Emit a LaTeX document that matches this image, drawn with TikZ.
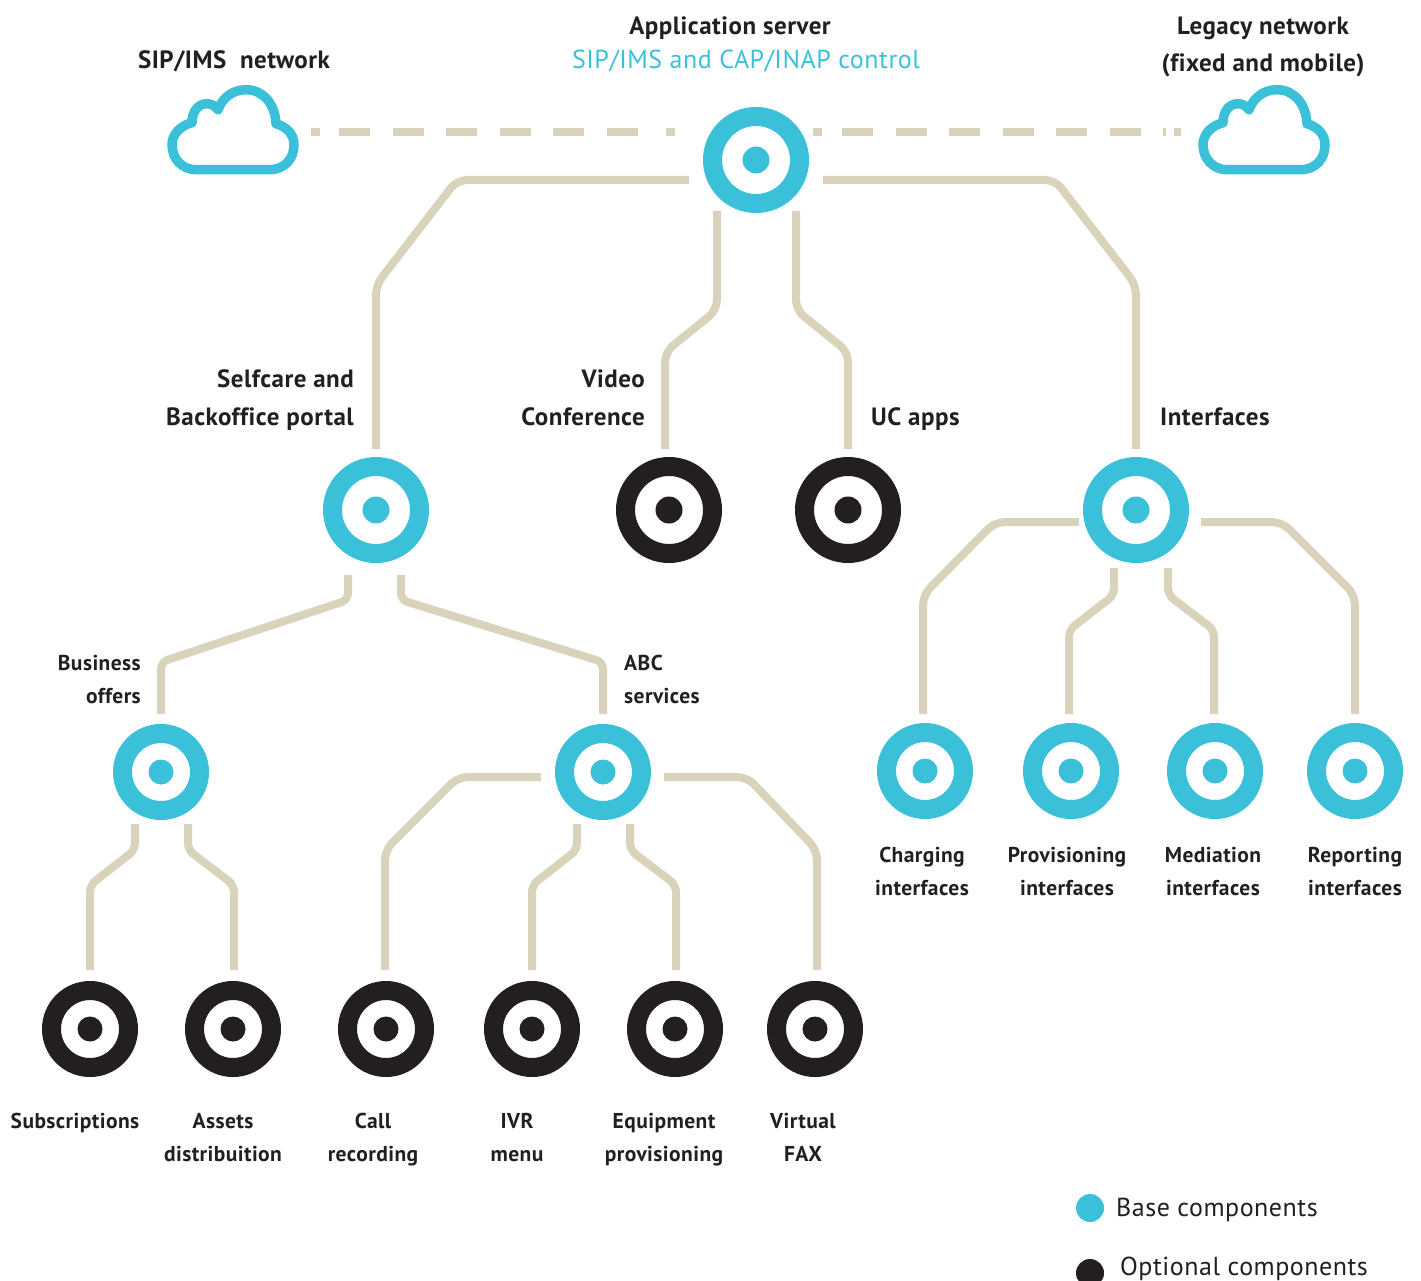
\documentclass[tikz,border=0pt]{standalone}
\usepackage{fontspec}
\setmainfont[LetterSpace=2,Ligatures=NoCommon]{PT Sans}
\usetikzlibrary{calc}
\definecolor{cy}{HTML}{3AC1D9}
\definecolor{ink}{HTML}{231F20}
\definecolor{sand}{HTML}{DAD3BC}
\tikzset{
  x=1pt,y=-1pt,
  big/.style={circle,inner sep=0,minimum size=87pt,line width=19pt,fill=white},
  small/.style={circle,inner sep=0,minimum size=77pt,line width=19pt,fill=white},
  base/.style={draw=cy},
  opt/.style={draw=ink},
  link/.style={draw=sand,line width=8pt,rounded corners=10pt},
  tight/.style={rounded corners=7pt},
  dashlink/.style={draw=sand,line width=8pt},
  cloudshape/.style={draw=cy,line width=9.5pt,line join=round},
  strutted/.style={inner sep=0,execute at begin node=\strut,execute at end node=\strut},
  lgtxt/.style={strutted,text=ink,align=center,font=\bfseries\fontsize{25}{38}\selectfont},
  smtxt/.style={strutted,text=ink,align=center,font=\bfseries\fontsize{21.5}{33}\selectfont},
  regtxt/.style={strutted,text=ink,font=\fontsize{26}{30}\selectfont},
  plaintxt/.style={inner sep=0,text=ink,font=\fontsize{26}{30}\selectfont},
}
\newcommand{\cloudat}[1]{\draw[cloudshape,shift={(#1)}] (-37,38) -- (36,38)
  .. controls (52,38) and (61,27) .. (61,13)
  .. controls (61,2) and (53,-5) .. (43,-8)
  .. controls (42,-28) and (30,-42) .. (13,-42)
  .. controls (-1,-42) and (-11,-33) .. (-15,-22)
  .. controls (-18,-26) and (-22,-28) .. (-26,-28)
  .. controls (-35,-28) and (-41,-20) .. (-41,-9)
  .. controls (-53,-6) and (-61,3) .. (-61,13)
  .. controls (-61,27) and (-51,38) .. (-37,38) -- cycle;}
\begin{document}
\begin{tikzpicture}
\useasboundingbox (0,0) rectangle (1421,1281);
% big nodes
\foreach \n/\p/\s/\c in {app/{756,160}/base/cy,self/{376,510}/base/cy,video/{669,510}/opt/ink,uc/{848,510}/opt/ink,iface/{1136,510}/base/cy}{
  \node[big,\s] (\n) at (\p) {};
  \fill[\c] (\n.center) circle (13.5pt);
}
\foreach \n/\p/\s/\c in {biz/{161,772}/base/cy,abc/{603,772}/base/cy,chg/{925,771}/base/cy,prv/{1071,771}/base/cy,med/{1215,771}/base/cy,rep/{1355,771}/base/cy,subs/{90,1029}/opt/ink,assets/{233,1029}/opt/ink,call/{386,1029}/opt/ink,ivr/{532,1029}/opt/ink,equip/{675,1029}/opt/ink,fax/{815,1029}/opt/ink}{
  \node[small,\s] (\n) at (\p) {};
  \fill[\c] (\n.center) circle (12.5pt);
}
% clouds
\node[inner sep=0,minimum width=131pt,minimum height=88pt] (sipcloud) at (233,131.7) {};
\node[inner sep=0,minimum width=131pt,minimum height=88pt] (legcloud) at (1264,131.7) {};
\cloudat{sipcloud.center}
\cloudat{legcloud.center}
% dashed links
\draw[dashlink,dash pattern=on 9pt off 19pt on 31pt off 22.5pt on 31pt off 22.5pt on 31pt off 22.5pt on 31pt off 22.5pt on 31pt off 22.5pt on 31pt off 28pt on 10pt off 1000pt]
  ([shift={(78,0)}]sipcloud.center) -- ([shift={(-81,0)}]app.center |- sipcloud.center);
\draw[dashlink,dash pattern=on 9pt off 20pt on 31pt off 22.5pt on 31pt off 22.5pt on 31pt off 22.5pt on 31pt off 22.5pt on 31pt off 22.5pt on 31pt off 22.5pt on 3pt off 8pt on 9pt off 1000pt]
  ([shift={(57,0)}]app.center |- legcloud.center) -- ([shift={(-83,0)}]legcloud.center);
% links
\draw[link] ([shift={(-67,20)}]app.center) -- ([shift={(-299,20)}]app.center) -- ([shift={(0,-225)}]self.center) -- ([shift={(0,-61)}]self.center);
\draw[link] ([shift={(-39,51)}]app.center) -- ([shift={(-39,150)}]app.center) -- ([shift={(-4,-158)}]video.center) -- ([shift={(-4,-61)}]video.center);
\draw[link] ([shift={(40,51)}]app.center) -- ([shift={(40,150)}]app.center) -- ([shift={(0,-158)}]uc.center) -- ([shift={(0,-61)}]uc.center);
\draw[link] ([shift={(67,20)}]app.center) -- ([shift={(299,20)}]app.center) -- ([shift={(0,-225)}]iface.center) -- ([shift={(0,-61)}]iface.center);
\draw[link,tight] ([shift={(-28,65)}]self.center) -- ([shift={(-28,90)}]self.center) -- ([shift={(0,-110)}]biz.center) -- ([shift={(0,-58)}]biz.center);
\draw[link,tight] ([shift={(25,65)}]self.center) -- ([shift={(25,90)}]self.center) -- ([shift={(0,-110)}]abc.center) -- ([shift={(0,-58)}]abc.center);
\draw[link] ([shift={(-57,12)}]iface.center) -- ([shift={(-141,12)}]iface.center) -- ([shift={(-2,-176)}]chg.center) -- ([shift={(-2,-57)}]chg.center);
\draw[link,tight] ([shift={(-22,58)}]iface.center) -- ([shift={(-22,85)}]iface.center) -- ([shift={(-2,-141)}]prv.center) -- ([shift={(-2,-57)}]prv.center);
\draw[link,tight] ([shift={(32,58)}]iface.center) -- ([shift={(32,85)}]iface.center) -- ([shift={(-1,-141)}]med.center) -- ([shift={(-1,-57)}]med.center);
\draw[link] ([shift={(65,12)}]iface.center) -- ([shift={(146,12)}]iface.center) -- ([shift={(0,-176)}]rep.center) -- ([shift={(0,-57)}]rep.center);
\draw[link,tight] ([shift={(-26,52)}]biz.center) -- ([shift={(-26,78)}]biz.center) -- ([shift={(0,-144)}]subs.center) -- ([shift={(0,-59)}]subs.center);
\draw[link,tight] ([shift={(27,52)}]biz.center) -- ([shift={(27,78)}]biz.center) -- ([shift={(1,-144)}]assets.center) -- ([shift={(1,-59)}]assets.center);
\draw[link] ([shift={(-62,5)}]abc.center) -- ([shift={(-145,5)}]abc.center) -- ([shift={(-1,-179)}]call.center) -- ([shift={(-1,-59)}]call.center);
\draw[link,tight] ([shift={(-26,52)}]abc.center) -- ([shift={(-26,78)}]abc.center) -- ([shift={(0,-144)}]ivr.center) -- ([shift={(0,-59)}]ivr.center);
\draw[link,tight] ([shift={(27,52)}]abc.center) -- ([shift={(27,78)}]abc.center) -- ([shift={(1,-144)}]equip.center) -- ([shift={(1,-59)}]equip.center);
\draw[link] ([shift={(61,5)}]abc.center) -- ([shift={(144,5)}]abc.center) -- ([shift={(2,-179)}]fax.center) -- ([shift={(2,-59)}]fax.center);
% labels
\node[lgtxt] (tsip) at (234,61) {SIP/IMS\ \ network};
\node[lgtxt] (tapp) at (730,27) {Application server};
\node[regtxt,text=cy] (tctl) at (746,63) {SIP/IMS and CAP/INAP control};
\node[lgtxt,font=\bfseries\fontsize{25}{37}\selectfont] (tleg) at (1263,50) {Legacy network\\(fixed and mobile)};
\node[lgtxt,align=right,anchor=east] (tself) at (354,403) {Selfcare and\\Backoffice portal};
\node[lgtxt,align=right,anchor=east] (tvid) at (645,403) {Video\\Conference};
\node[lgtxt,anchor=west] (tuc) at (871,418) {UC apps};
\node[lgtxt,anchor=west] (tif) at (1160,418) {Interfaces};
\node[smtxt,align=right,anchor=east] (tbiz) at (141,684.5) {Business\\offers};
\node[smtxt,align=left,anchor=west] (tabc) at (624,684.5) {ABC\\services};
\node[smtxt] (tchg) at (922,876.5) {Charging\\interfaces};
\node[smtxt] (tprv) at (1067,876.5) {Provisioning\\interfaces};
\node[smtxt] (tmed) at (1213,876.5) {Mediation\\interfaces};
\node[smtxt] (trep) at (1355,876.5) {Reporting\\interfaces};
\node[smtxt] (tsub) at (75,1122) {Subscriptions};
\node[smtxt] (tass) at (223,1142.5) {Assets\\distribuition};
\node[smtxt] (tcal) at (373,1142.5) {Call\\recording};
\node[smtxt] (tivr) at (517,1142.5) {IVR\\menu};
\node[smtxt] (tequ) at (664,1142.5) {Equipment\\provisioning};
\node[smtxt] (tfax) at (803,1142.5) {Virtual\\FAX};
% legend
\node[circle,fill=cy,inner sep=0,minimum size=28pt] (lgbase) at (1090,1208) {};
\node[circle,fill=ink,inner sep=0,minimum size=28pt] (lgopt) at (1090,1273) {};
\node[regtxt,anchor=west] (tbase) at (1116,1210) {Base components};
\node[plaintxt,anchor=base west] (topt) at (1120,1275) {Optional components};
\end{tikzpicture}
\end{document}
